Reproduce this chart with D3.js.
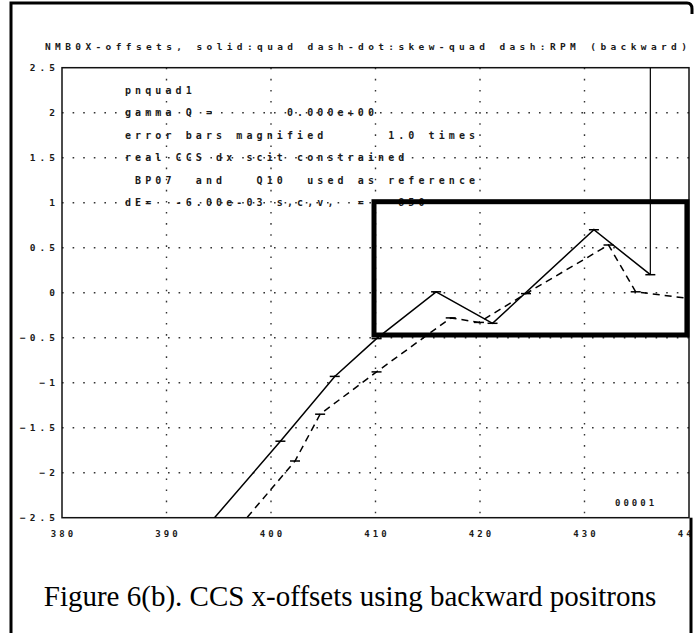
<!DOCTYPE html>
<html>
<head>
<meta charset="utf-8">
<script src="https://cdn.jsdelivr.net/npm/d3@7/dist/d3.min.js"></script>
<style>
  body { margin: 0; background: #fff; }
  svg { display: block; }
  .mono { font-family: "DejaVu Sans Mono", monospace; font-weight: bold; font-size: 10px; fill: #1a1a1a; letter-spacing: 4.1px; }
</style>
</head>
<body>
<svg width="697" height="633"></svg>
<script>
"use strict";

// values (x = position, y = offset)
var quadX = [392.0, 400.9, 406.1, 410.1, 415.8, 421.2, 430.9, 436.3];
var quadY = [-2.85, -1.65, -0.93, -0.51, 0.01, -0.34, 0.70, 0.20];
var quadErrUp = [0, 0.01, 0.01, 0.01, 0.01, 0.01, 0.01, 2.6];

var rpmX = [395.5, 402.3, 404.7, 410.1, 417.2, 419.9, 424.4, 432.3, 434.9, 440.0];
var rpmY = [-2.80, -1.87, -1.35, -0.88, -0.28, -0.33, -0.01, 0.53, 0.01, -0.065];

var xTicks = [380, 390, 400, 410, 420, 430, 440];
var yTicks = [-2.5, -2, -1.5, -1, -0.5, 0, 0.5, 1, 1.5, 2, 2.5];
var xGrid = [390, 400, 410, 420, 430];
var yGrid = [-2, -1.5, -1, -0.5, 0, 0.5, 1, 1.5, 2];

// the thick box drawn over the plot (data units)
var boxX = [410, 439.8];
var boxY = [-0.47, 1.0];

var title = "NMB0X-offsets, solid:quad dash-dot:skew-quad dash:RPM (backward)";
var notes = [
  "pnquad1",
  "gamma Q =       0.000e+00",
  "error bars magnified      1.0 times",
  "real CCS dx scit constrained",
  " BP07  and   Q10  used as reference",
  "dE=  -6.00e-03 s,c,v,  =   850"
];
var noteLevels = [2.25, 2.0, 1.75, 1.5, 1.25, 1.0];
var runId = "00001";
var caption = "Figure 6(b). CCS x-offsets using backward positrons";

var svg = d3.select("svg");

var pLeft = 62, pRight = 689, pTop = 67.7, pBottom = 517.7;
var x = d3.scaleLinear().domain([380, 440]).range([pLeft, pRight]);
var y = d3.scaleLinear().domain([-2.5, 2.5]).range([pBottom, pTop]);

var defs = svg.append("defs");
defs.append("clipPath").attr("id", "plotclip")
  .append("rect").attr("x", pLeft).attr("y", pTop).attr("width", pRight - pLeft).attr("height", pBottom - pTop);
defs.append("clipPath").attr("id", "labclip")
  .append("rect").attr("x", 0).attr("y", 0).attr("width", 690).attr("height", 633);

// outer page frame
svg.append("path")
  .attr("d", "M11,633 V3 H687 Q692,3 692,9 V14")
  .attr("fill", "none").attr("stroke", "#000").attr("stroke-width", 3);
svg.append("line").attr("x1", 691).attr("x2", 691).attr("y1", pBottom).attr("y2", 633)
  .attr("stroke", "#000").attr("stroke-width", 3);

// header line
svg.append("text").attr("class", "mono").attr("x", 45).attr("y", 50)
  .attr("textLength", 646).attr("lengthAdjust", "spacing")
  .style("font-size", "9.5px").text(title);

// dotted grid
svg.append("g").selectAll("line").data(yGrid).enter().append("line")
  .attr("x1", pLeft).attr("x2", pRight)
  .attr("y1", function(d){ return y(d); }).attr("y2", function(d){ return y(d); })
  .attr("stroke", "#333").attr("stroke-width", 1.4).attr("stroke-dasharray", "1.6,9");
svg.append("g").selectAll("line").data(xGrid).enter().append("line")
  .attr("y1", pTop).attr("y2", pBottom)
  .attr("x1", function(d){ return x(d); }).attr("x2", function(d){ return x(d); })
  .attr("stroke", "#333").attr("stroke-width", 1.4).attr("stroke-dasharray", "1.6,9.5");

// plot frame
svg.append("rect").attr("x", pLeft).attr("y", pTop).attr("width", pRight - pLeft).attr("height", pBottom - pTop)
  .attr("fill", "none").attr("stroke", "#111").attr("stroke-width", 1.5);

// tick labels
svg.append("g").selectAll("text").data(yTicks).enter().append("text")
  .attr("class", "mono").attr("text-anchor", "end")
  .attr("x", 59).attr("y", function(d){ return y(d) + 3.5; })
  .style("font-size", "9.5px").style("letter-spacing", "4px")
  .text(function(d){ return d3.format("")(d); });
// last label runs into the page edge, as in the scan
svg.append("g").attr("clip-path", "url(#labclip)").selectAll("text").data(xTicks).enter().append("text")
  .attr("class", "mono").attr("text-anchor", "middle")
  .attr("x", function(d){ return x(d) + 1.5; }).attr("y", 537)
  .style("font-size", "9px").style("letter-spacing", "3px")
  .text(function(d){ return d; });

// notes inside the plot
svg.append("g").selectAll("text").data(notes).enter().append("text")
  .attr("class", "mono").attr("x", 125)
  .attr("y", function(d, i){ return y(noteLevels[i]) + 3.5; })
  .attr("xml:space", "preserve").style("white-space", "pre")
  .text(function(d){ return d; });

svg.append("text").attr("class", "mono").attr("x", 615).attr("y", 506)
  .style("font-size", "9px").style("letter-spacing", "3px").text(runId);

// series
var plot = svg.append("g").attr("clip-path", "url(#plotclip)");
var quad = quadX.map(function(d, i){ return [d, quadY[i], quadErrUp[i]]; });
var rpm = rpmX.map(function(d, i){ return [d, rpmY[i]]; });
var line = d3.line().x(function(d){ return x(d[0]); }).y(function(d){ return y(d[1]); });

plot.append("path").datum(quad).attr("d", line)
  .attr("fill", "none").attr("stroke", "#000").attr("stroke-width", 1.5);
plot.append("path").datum(rpm).attr("d", line)
  .attr("fill", "none").attr("stroke", "#000").attr("stroke-width", 1.5)
  .attr("stroke-dasharray", "7,5");

// error bars (mostly just the cap)
plot.append("g").selectAll("line").data(quad).enter().append("line")
  .attr("x1", function(d){ return x(d[0]); }).attr("x2", function(d){ return x(d[0]); })
  .attr("y1", function(d){ return y(d[1]); }).attr("y2", function(d){ return y(d[1] + d[2]); })
  .attr("stroke", "#000").attr("stroke-width", 1.2);
plot.append("g").selectAll("line").data(quad.slice(1)).enter().append("line")
  .attr("x1", function(d){ return x(d[0]) - 5; }).attr("x2", function(d){ return x(d[0]) + 5; })
  .attr("y1", function(d){ return y(d[1]); }).attr("y2", function(d){ return y(d[1]); })
  .attr("stroke", "#000").attr("stroke-width", 1.5);
plot.append("g").selectAll("line").data(rpm.slice(1, 9)).enter().append("line")
  .attr("x1", function(d){ return x(d[0]) - 5; }).attr("x2", function(d){ return x(d[0]) + 5; })
  .attr("y1", function(d){ return y(d[1]); }).attr("y2", function(d){ return y(d[1]); })
  .attr("stroke", "#000").attr("stroke-width", 1.5);

// heavy annotation box
svg.append("rect")
  .attr("x", x(boxX[0]) - 1.5).attr("y", y(boxY[1]) - 1)
  .attr("width", x(boxX[1]) - x(boxX[0]) + 1.5).attr("height", y(boxY[0]) - y(boxY[1]) + 1)
  .attr("fill", "none").attr("stroke", "#000").attr("stroke-width", 5);

// caption
svg.append("text").attr("x", 350).attr("y", 606).attr("text-anchor", "middle")
  .style("font-family", "'Liberation Serif', serif").style("font-size", "29px")
  .text(caption);
</script>
</body>
</html>
